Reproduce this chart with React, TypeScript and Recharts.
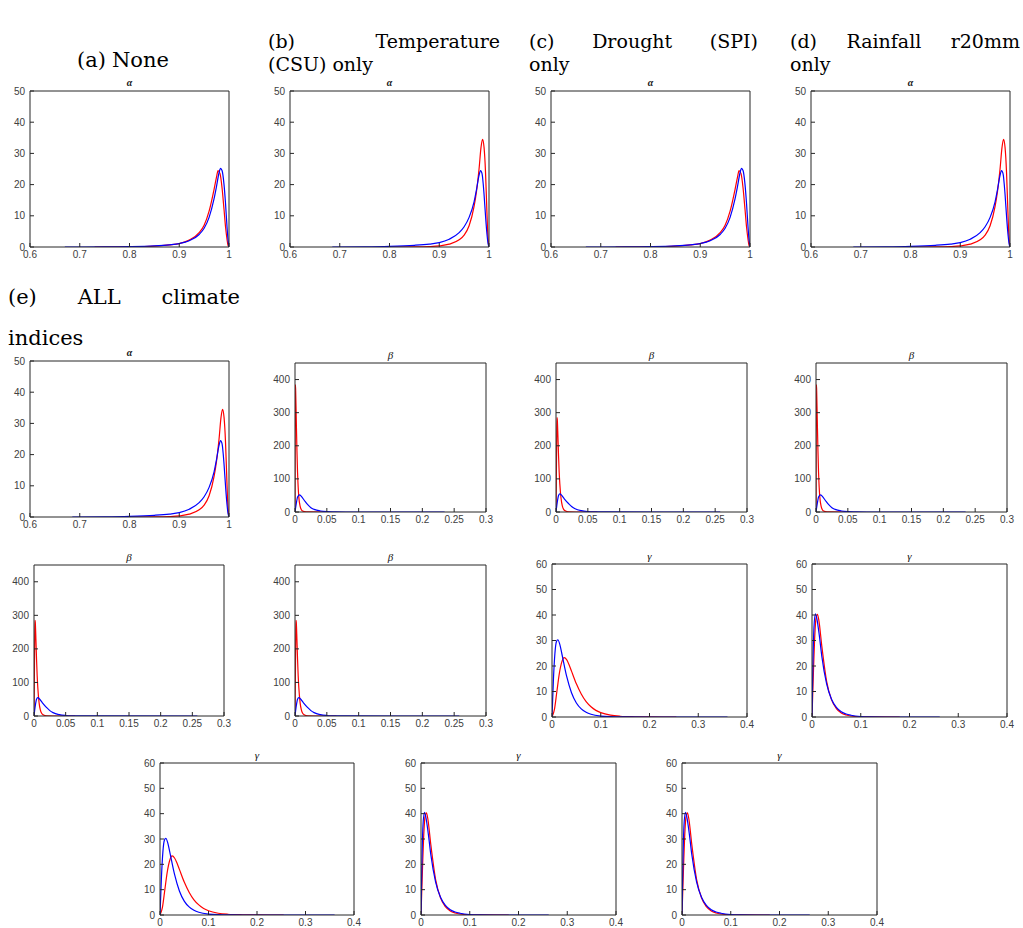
import { LineChart, Line, XAxis, YAxis } from 'recharts';

// axis ticks
const ALPHA_X_TICKS = [0.6, 0.7, 0.8, 0.9, 1];
const ALPHA_Y_TICKS = [0, 10, 20, 30, 40, 50];
const BETA_X_TICKS = [0, 0.05, 0.1, 0.15, 0.2, 0.25, 0.3];
const BETA_Y_TICKS = [0, 100, 200, 300, 400];
const GAMMA_X_TICKS = [0, 0.1, 0.2, 0.3, 0.4];
const GAMMA_Y_TICKS = [0, 10, 20, 30, 40, 50, 60];

// alpha, case 1 (None / Drought)
const alpha1BlueX = [0.67, 0.75, 0.8, 0.85, 0.88, 0.9, 0.92, 0.94, 0.95, 0.96, 0.97, 0.975, 0.98, 0.983, 0.986, 0.99, 0.993, 0.996, 0.998, 1.0];
const alpha1BlueY = [0, 0.02, 0.1, 0.35, 0.7, 1.1, 2.0, 4.0, 6.0, 9.5, 15.5, 19.5, 23.8, 25.2, 24.5, 20, 14, 6.5, 2.5, 0];
const alpha1RedX = [0.73, 0.8, 0.85, 0.88, 0.9, 0.92, 0.94, 0.95, 0.96, 0.97, 0.975, 0.978, 0.982, 0.986, 0.99, 0.993, 0.996, 0.998, 1.0];
const alpha1RedY = [0, 0.08, 0.3, 0.7, 1.1, 2.2, 4.6, 7.0, 11.5, 18.5, 22.5, 24.5, 23.5, 19, 12, 6.5, 2.5, 0.5, 0];

// alpha, case 2 (Temperature / Rainfall / ALL)
const alpha2BlueX = [0.685, 0.75, 0.8, 0.85, 0.88, 0.9, 0.92, 0.94, 0.95, 0.96, 0.97, 0.975, 0.98, 0.983, 0.986, 0.99, 0.993, 0.996, 0.998, 1.0];
const alpha2BlueY = [0, 0.05, 0.2, 0.55, 0.95, 1.4, 2.5, 4.6, 6.5, 9.5, 14.5, 18.5, 23, 24.5, 23.5, 17, 10, 4, 1.2, 0];
const alpha2RedX = [0.79, 0.85, 0.88, 0.9, 0.92, 0.94, 0.95, 0.96, 0.97, 0.975, 0.98, 0.984, 0.987, 0.99, 0.993, 0.995, 0.997, 0.999, 1.0];
const alpha2RedY = [0, 0.05, 0.15, 0.35, 0.9, 2.3, 3.8, 6.8, 13, 18, 25, 32, 34.5, 32, 24, 15, 6, 1, 0];

// beta, case 1
const beta1RedX = [0, 0.0006, 0.001, 0.002, 0.003, 0.004, 0.005, 0.006, 0.008, 0.01, 0.012, 0.015, 0.02, 0.05];
const beta1RedY = [0, 385, 370, 280, 190, 120, 75, 45, 18, 7, 3, 1, 0.2, 0];
const beta1BlueX = [0, 0.002, 0.004, 0.007, 0.01, 0.015, 0.02, 0.025, 0.03, 0.04, 0.05, 0.06, 0.08, 0.235];
const beta1BlueY = [0, 25, 45, 52, 47, 34, 22, 13, 8, 3, 1, 0.4, 0.05, 0];

// beta, case 2
const beta2RedX = [0, 0.001, 0.0015, 0.002, 0.003, 0.004, 0.005, 0.006, 0.008, 0.01, 0.012, 0.015, 0.02, 0.03, 0.065];
const beta2RedY = [0, 200, 285, 280, 230, 170, 120, 85, 40, 18, 8, 3, 0.5, 0.05, 0];
const beta2BlueX = [0, 0.002, 0.004, 0.006, 0.009, 0.013, 0.02, 0.025, 0.03, 0.04, 0.05, 0.06, 0.08, 0.258];
const beta2BlueY = [0, 30, 50, 55, 50, 40, 25, 16, 10, 4, 1.5, 0.6, 0.1, 0];

// gamma, case 1
const gamma1BlueX = [0, 0.003, 0.006, 0.009, 0.012, 0.016, 0.02, 0.03, 0.04, 0.05, 0.06, 0.07, 0.08, 0.1, 0.12, 0.15, 0.2, 0.36];
const gamma1BlueY = [0, 15, 25, 29.5, 30.3, 28.5, 25, 16, 9.5, 5.5, 3.2, 1.9, 1.1, 0.35, 0.12, 0.03, 0, 0];
const gamma1RedX = [0, 0.005, 0.01, 0.015, 0.02, 0.025, 0.03, 0.035, 0.04, 0.05, 0.06, 0.07, 0.08, 0.09, 0.1, 0.12, 0.14, 0.17, 0.2, 0.255];
const gamma1RedY = [0, 3, 10, 17, 21.5, 23.3, 22.5, 20.5, 18, 13, 9, 6, 4, 2.6, 1.7, 0.7, 0.3, 0.1, 0.02, 0];

// gamma, case 2
const gamma2BlueX = [0, 0.002, 0.004, 0.007, 0.01, 0.015, 0.02, 0.03, 0.04, 0.05, 0.06, 0.07, 0.08, 0.1, 0.12, 0.15, 0.262];
const gamma2BlueY = [0, 22, 35, 40.5, 38.5, 32, 24, 13, 7, 3.8, 2.1, 1.2, 0.7, 0.2, 0.06, 0.01, 0];
const gamma2RedX = [0, 0.003, 0.006, 0.008, 0.011, 0.014, 0.02, 0.03, 0.04, 0.05, 0.06, 0.07, 0.08, 0.1, 0.12, 0.18];
const gamma2RedY = [0, 18, 33, 38.5, 40.3, 38, 28, 14, 6.8, 3.3, 1.6, 0.8, 0.4, 0.1, 0.02, 0];

const zip = (xs: number[], ys: number[]) => xs.map((x, i) => ({ x, y: ys[i] }));

const CURVES: Record<string, { red: { x: number; y: number }[]; blue: { x: number; y: number }[] }> = {
  alpha1: { red: zip(alpha1RedX, alpha1RedY), blue: zip(alpha1BlueX, alpha1BlueY) },
  alpha2: { red: zip(alpha2RedX, alpha2RedY), blue: zip(alpha2BlueX, alpha2BlueY) },
  beta1: { red: zip(beta1RedX, beta1RedY), blue: zip(beta1BlueX, beta1BlueY) },
  beta2: { red: zip(beta2RedX, beta2RedY), blue: zip(beta2BlueX, beta2BlueY) },
  gamma1: { red: zip(gamma1RedX, gamma1RedY), blue: zip(gamma1BlueX, gamma1BlueY) },
  gamma2: { red: zip(gamma2RedX, gamma2RedY), blue: zip(gamma2BlueX, gamma2BlueY) },
};

const KINDS: Record<string, any> = {
  alpha: { title: 'α', xd: [0.6, 1], xt: ALPHA_X_TICKS, yd: [0, 50], yt: ALPHA_Y_TICKS },
  beta: { title: 'β', xd: [0, 0.3], xt: BETA_X_TICKS, yd: [0, 450], yt: BETA_Y_TICKS },
  gamma: { title: 'γ', xd: [0, 0.4], xt: GAMMA_X_TICKS, yd: [0, 60], yt: GAMMA_Y_TICKS },
};

// plot box of each panel: left, top, width, height
const PANELS = [
  { kind: 'alpha', set: 'alpha1', x: 30, y: 91, w: 199, h: 156 },
  { kind: 'alpha', set: 'alpha2', x: 290, y: 91, w: 199, h: 156 },
  { kind: 'alpha', set: 'alpha1', x: 551, y: 91, w: 199, h: 156 },
  { kind: 'alpha', set: 'alpha2', x: 811, y: 91, w: 199, h: 156 },
  { kind: 'alpha', set: 'alpha2', x: 30, y: 361, w: 199, h: 156 },
  { kind: 'beta', set: 'beta1', x: 295, y: 363, w: 191, h: 149 },
  { kind: 'beta', set: 'beta2', x: 556, y: 363, w: 191, h: 149 },
  { kind: 'beta', set: 'beta1', x: 816, y: 363, w: 191, h: 149 },
  { kind: 'beta', set: 'beta2', x: 34, y: 565, w: 190, h: 151 },
  { kind: 'beta', set: 'beta2', x: 295, y: 565, w: 191, h: 151 },
  { kind: 'gamma', set: 'gamma1', x: 552, y: 564, w: 195, h: 153 },
  { kind: 'gamma', set: 'gamma2', x: 812, y: 564, w: 195, h: 153 },
  { kind: 'gamma', set: 'gamma1', x: 160, y: 763, w: 194, h: 152 },
  { kind: 'gamma', set: 'gamma2', x: 421, y: 763, w: 195, h: 152 },
  { kind: 'gamma', set: 'gamma2', x: 682, y: 763, w: 195, h: 152 },
];

const AXIS = '#262626';
const TICK_FONT = { fontSize: 10, fill: '#404040', fontFamily: 'Liberation Sans, Arial, sans-serif' };
const SERIF = 'DejaVu Serif, serif';

const L = 30; // room for y tick labels
const B = 20; // room for x tick labels
const MT = 8; // room above the box
const MR = 12; // room right of the box

const Panel = ({ p }: { p: any }) => {
  const k = KINDS[p.kind];
  const c = CURVES[p.set];
  const width = L + p.w + MR + 1;
  const height = MT + 1 + p.h + B;
  return (
    <div style={{ position: 'absolute', left: p.x - L, top: p.y - MT - 1, width, height }}>
      <LineChart width={width} height={height} margin={{ top: MT, right: MR, left: 0, bottom: 0 }}>
        <XAxis xAxisId="b" dataKey="x" type="number" domain={k.xd} ticks={k.xt} height={B} interval={0}
          allowDataOverflow tickSize={-4} tickMargin={8} stroke={AXIS} tick={TICK_FONT} />
        <XAxis xAxisId="t" orientation="top" dataKey="x" type="number" domain={k.xd} ticks={k.xt} height={1}
          interval={0} allowDataOverflow tickSize={-4} tick={false} stroke={AXIS} />
        <YAxis yAxisId="l" type="number" domain={k.yd} ticks={k.yt} width={L} interval={0}
          allowDataOverflow tickSize={-4} tickMargin={9} stroke={AXIS} tick={TICK_FONT} />
        <YAxis yAxisId="r" orientation="right" type="number" domain={k.yd} ticks={k.yt} width={1}
          interval={0} allowDataOverflow tickSize={-4} tick={false} stroke={AXIS} />
        <Line xAxisId="b" yAxisId="l" data={c.red} dataKey="y" type="monotone" stroke="#ff0000"
          strokeWidth={1.2} dot={false} isAnimationActive={false} />
        <Line xAxisId="b" yAxisId="l" data={c.blue} dataKey="y" type="monotone" stroke="#0000ff"
          strokeWidth={1.2} dot={false} isAnimationActive={false} />
      </LineChart>
      <div style={{
        position: 'absolute', left: L, width: p.w, top: MT + 1 - 14, textAlign: 'center', lineHeight: '12px',
        fontFamily: 'Liberation Serif, serif', fontStyle: 'italic',
        fontWeight: p.kind === 'alpha' ? 'bold' : 'normal', fontSize: p.kind === 'alpha' ? 10 : 11, color: '#111',
      }}>{k.title}</div>
    </div>
  );
};

const Caption = ({ words, left, right, cy, size = 21 }: { words: string[]; left: number; right?: number; cy: number; size?: number }) => (
  <div style={{
    position: 'absolute', left, top: cy - 10, height: 20, lineHeight: '20px', width: right ? right - left : undefined,
    display: 'flex', justifyContent: 'space-between', gap: 6, whiteSpace: 'nowrap',
    fontFamily: SERIF, fontSize: size, color: '#000',
  }}>
    {words.map((w, i) => <span key={i}>{w}</span>)}
  </div>
);

export default function App() {
  return (
    <div style={{ position: 'absolute', left: 0, top: 0, width: 1023, height: 928, background: '#fff', overflow: 'hidden' }}>
      <Caption words={['(a)', 'None']} left={77} cy={60} />
      <Caption words={['(b)', 'Temperature']} left={268} right={500} cy={41} size={19} />
      <Caption words={['(CSU)', 'only']} left={268} cy={64} size={19} />
      <Caption words={['(c)', 'Drought', '(SPI)']} left={529} right={758} cy={41} size={19} />
      <Caption words={['only']} left={529} cy={64} size={19} />
      <Caption words={['(d)', 'Rainfall', 'r20mm']} left={790} right={1020} cy={41} size={19} />
      <Caption words={['only']} left={790} cy={64} size={19} />
      <Caption words={['(e)', 'ALL', 'climate']} left={8} right={240} cy={297} />
      <Caption words={['indices']} left={8} cy={338} />
      {PANELS.map((p, i) => <Panel key={i} p={p} />)}
    </div>
  );
}
